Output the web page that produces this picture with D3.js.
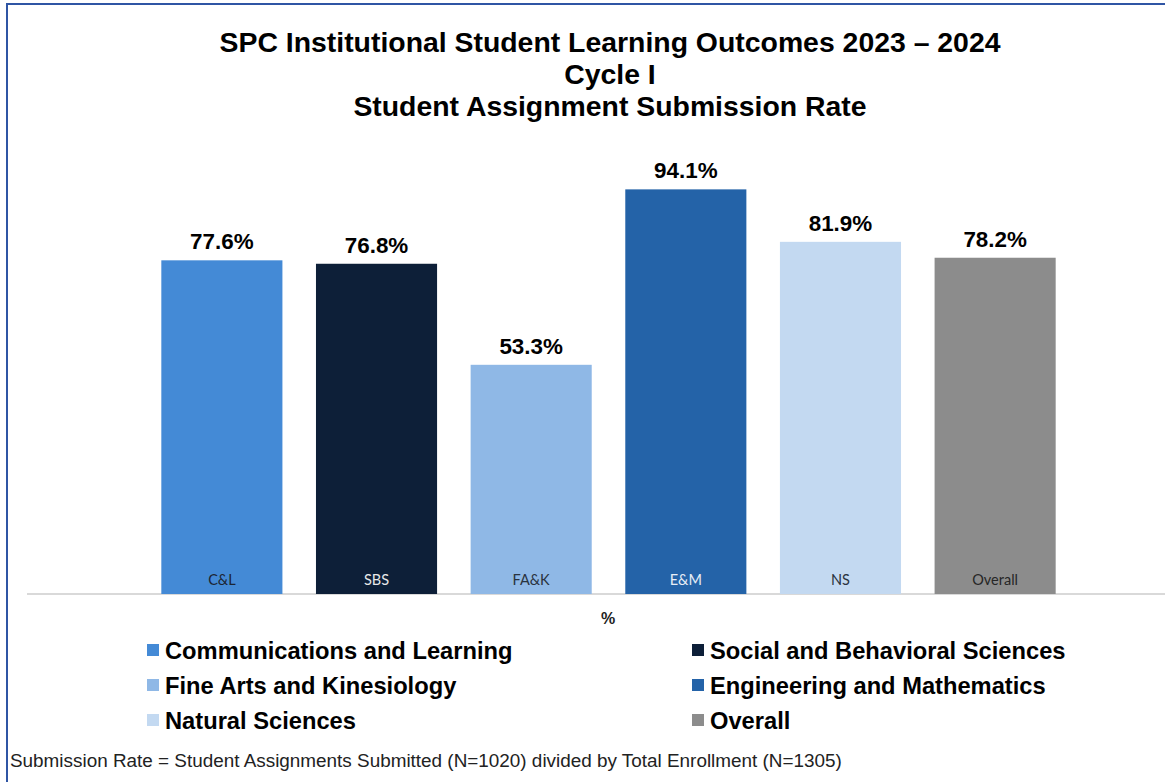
<!DOCTYPE html>
<html>
<head>
<meta charset="utf-8">
<script src="https://cdn.jsdelivr.net/npm/d3@7"></script>
<style>
  html, body { margin: 0; padding: 0; background: #fff; }
  svg { display: block; }
</style>
</head>
<body>
<div id="chart"></div>
<script>
// data
const codes = ["C&L", "SBS", "FA&K", "E&M", "NS", "Overall"];
const names = [
    "Communications and Learning",
    "Social and Behavioral Sciences",
    "Fine Arts and Kinesiology",
    "Engineering and Mathematics",
    "Natural Sciences",
    "Overall"
];
const rates = [77.6, 76.8, 53.3, 94.1, 81.9, 78.2];
const colors = ["#448ad6", "#0d1f38", "#8fb8e6", "#2463a8", "#c3d9f1", "#8c8c8c"];
const codeColors = ["#1c2533", "#e8e8e8", "#2a3340", "#e8eef6", "#2a3340", "#262626"];
const titleLines = [
    "SPC Institutional Student Learning Outcomes 2023 – 2024",
    "Cycle I",
    "Student Assignment Submission Rate"
];
const footnote = "Submission Rate = Student Assignments Submitted (N=1020) divided by Total Enrollment (N=1305)";

const width = 1165;
const height = 782;

const svg = d3.select("#chart")
    .append("svg")
    .attr("width", width)
    .attr("height", height);

// frame (only top and left edges visible)
svg.append("line")
    .attr("x1", 6).attr("y1", 4).attr("x2", width).attr("y2", 4)
    .attr("stroke", "#2f55a4").attr("stroke-width", 2);
svg.append("line")
    .attr("x1", 7).attr("y1", 4).attr("x2", 7).attr("y2", height)
    .attr("stroke", "#2f55a4").attr("stroke-width", 2);

// title
svg.selectAll(".title")
    .data(titleLines)
    .enter()
    .append("text")
    .attr("class", "title")
    .attr("x", 610)
    .attr("y", (d, i) => 52 + i * 32)
    .attr("text-anchor", "middle")
    .style("font-family", "Liberation Sans, Arial, sans-serif")
    .style("font-size", "28.4px")
    .style("font-weight", "bold")
    .style("fill", "#000")
    .text(d => d);

// scales
const x = d3.scaleBand()
    .domain(codes)
    .range([84, 1133])
    .paddingInner(0.217)
    .paddingOuter(0.5);

const y = d3.scaleLinear()
    .domain([0, 100])
    .range([594, 164]);

// baseline
svg.append("g")
    .attr("transform", `translate(0,${y(0)})`)
    .call(d3.axisBottom(x).tickSize(0).tickFormat(""))
    .call(g => g.select(".domain")
        .attr("d", "M27,0H1165")
        .attr("stroke", "#d9d9d9")
        .attr("stroke-width", 2));

// bars
svg.selectAll(".bar")
    .data(rates)
    .enter()
    .append("rect")
    .attr("class", "bar")
    .attr("x", (d, i) => x(codes[i]))
    .attr("y", d => y(d))
    .attr("width", x.bandwidth())
    .attr("height", d => y(0) - y(d))
    .attr("fill", (d, i) => colors[i]);

// value labels
svg.selectAll(".value")
    .data(rates)
    .enter()
    .append("text")
    .attr("class", "value")
    .attr("x", (d, i) => x(codes[i]) + x.bandwidth() / 2)
    .attr("y", d => y(d) - 11)
    .attr("text-anchor", "middle")
    .style("font-family", "Liberation Sans, Arial, sans-serif")
    .style("font-size", "22.4px")
    .style("font-weight", "bold")
    .style("fill", "#000")
    .text(d => d.toFixed(1) + "%");

// category codes inside bars
svg.selectAll(".code")
    .data(codes)
    .enter()
    .append("text")
    .attr("class", "code")
    .attr("x", d => x(d) + x.bandwidth() / 2)
    .attr("y", y(0) - 9)
    .attr("text-anchor", "middle")
    .style("font-family", "Lato, Open Sans, sans-serif")
    .style("font-size", "14.5px")
    .style("fill", (d, i) => codeColors[i])
    .text(d => d);

// axis title
svg.append("text")
    .attr("x", 608)
    .attr("y", 624)
    .attr("text-anchor", "middle")
    .style("font-family", "Liberation Sans, Arial, sans-serif")
    .style("font-size", "16px")
    .style("font-weight", "bold")
    .style("fill", "#222")
    .text("%");

// legend
const legend = svg.selectAll(".legend")
    .data(names)
    .enter()
    .append("g")
    .attr("class", "legend")
    .attr("transform", (d, i) => `translate(${i % 2 === 0 ? 147 : 692},${650 + Math.floor(i / 2) * 35})`);

legend.append("rect")
    .attr("x", 0)
    .attr("y", -6)
    .attr("width", 12)
    .attr("height", 12)
    .attr("fill", (d, i) => colors[i]);

legend.append("text")
    .attr("x", 18)
    .attr("y", 8.5)
    .style("font-family", "Liberation Sans, Arial, sans-serif")
    .style("font-size", "23.7px")
    .style("font-weight", "bold")
    .style("fill", "#000")
    .text(d => d);

// footnote
svg.append("text")
    .attr("x", 10)
    .attr("y", 767)
    .style("font-family", "Liberation Sans, Arial, sans-serif")
    .style("font-size", "18.9px")
    .style("fill", "#222")
    .text(footnote);
</script>
</body>
</html>
